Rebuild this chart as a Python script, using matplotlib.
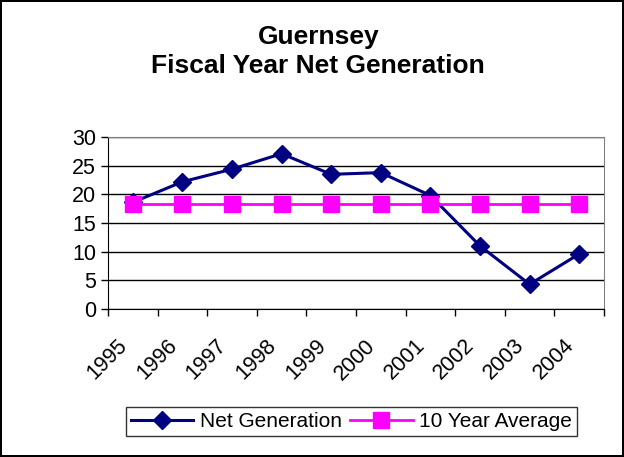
import numpy as np
import matplotlib.pyplot as plt
import matplotlib.transforms as mtransforms
from matplotlib.ticker import FixedLocator, NullFormatter

plt.rcParams['font.family'] = ['Liberation Sans', 'DejaVu Sans']

years = ['1995', '1996', '1997', '1998', '1999', '2000', '2001', '2002', '2003', '2004']
net_generation = [18.6, 22.2, 24.4, 27.1, 23.5, 23.8, 19.8, 11.0, 4.3, 9.6]
ten_year_avg = [18.4] * 10

fig = plt.figure(figsize=(6.24, 4.57), dpi=100)
fig.patch.set_edgecolor('black')
fig.patch.set_linewidth(1.5)

ax = fig.add_axes([0.173, 0.324, 0.795, 0.376])
x = np.arange(len(years))

ax.plot(x, net_generation, color='#000080', lw=2.2, marker='D', ms=9.5,
        label='Net Generation', zorder=2)
ax.plot(x, ten_year_avg, color='#FF00FF', lw=2, marker='s', ms=11.5,
        label='10 Year Average', zorder=3)

ax.set_xlim(-0.5, len(years) - 0.5)
ax.set_ylim(0, 30)
ax.set_yticks(range(0, 31, 5))
ax.yaxis.grid(True, color='black', lw=1)
ax.set_axisbelow(True)

ax.set_xticks(x)
ax.set_xticklabels(years, rotation=45, ha='right', va='top',
                   rotation_mode='anchor', fontsize=15.5)
ax.tick_params(axis='x', which='major', length=0, pad=8)
# shift the slanted year labels a little left and down, like the original
offset = mtransforms.ScaledTranslation(-0.16, -0.15, fig.dpi_scale_trans)
for lbl in ax.get_xticklabels():
    lbl.set_transform(lbl.get_transform() + offset)
ax.xaxis.set_minor_locator(FixedLocator(np.arange(-0.5, len(years), 1)))
ax.xaxis.set_minor_formatter(NullFormatter())
ax.tick_params(axis='x', which='minor', length=5, width=1, direction='out')
ax.tick_params(axis='y', labelsize=15.5, length=5, width=1, direction='out')

for side in ['top', 'right']:
    ax.spines[side].set_color('#808080')
for side in ['left', 'bottom']:
    ax.spines[side].set_color('black')

fig.text(0.51, 0.887, 'Guernsey\nFiscal Year Net Generation', ha='center',
         va='center', fontsize=19, fontweight='bold', linespacing=1.25)

leg = fig.legend(loc='center', bbox_to_anchor=(0.563, 0.078), ncol=2,
                 fontsize=15, frameon=True, fancybox=False, edgecolor='black',
                 handlelength=3, columnspacing=0.4, handletextpad=0.3,
                 borderpad=0.25)
leg.get_frame().set_linewidth(1)

fig.savefig('out.png', dpi=100, edgecolor=fig.get_edgecolor())
